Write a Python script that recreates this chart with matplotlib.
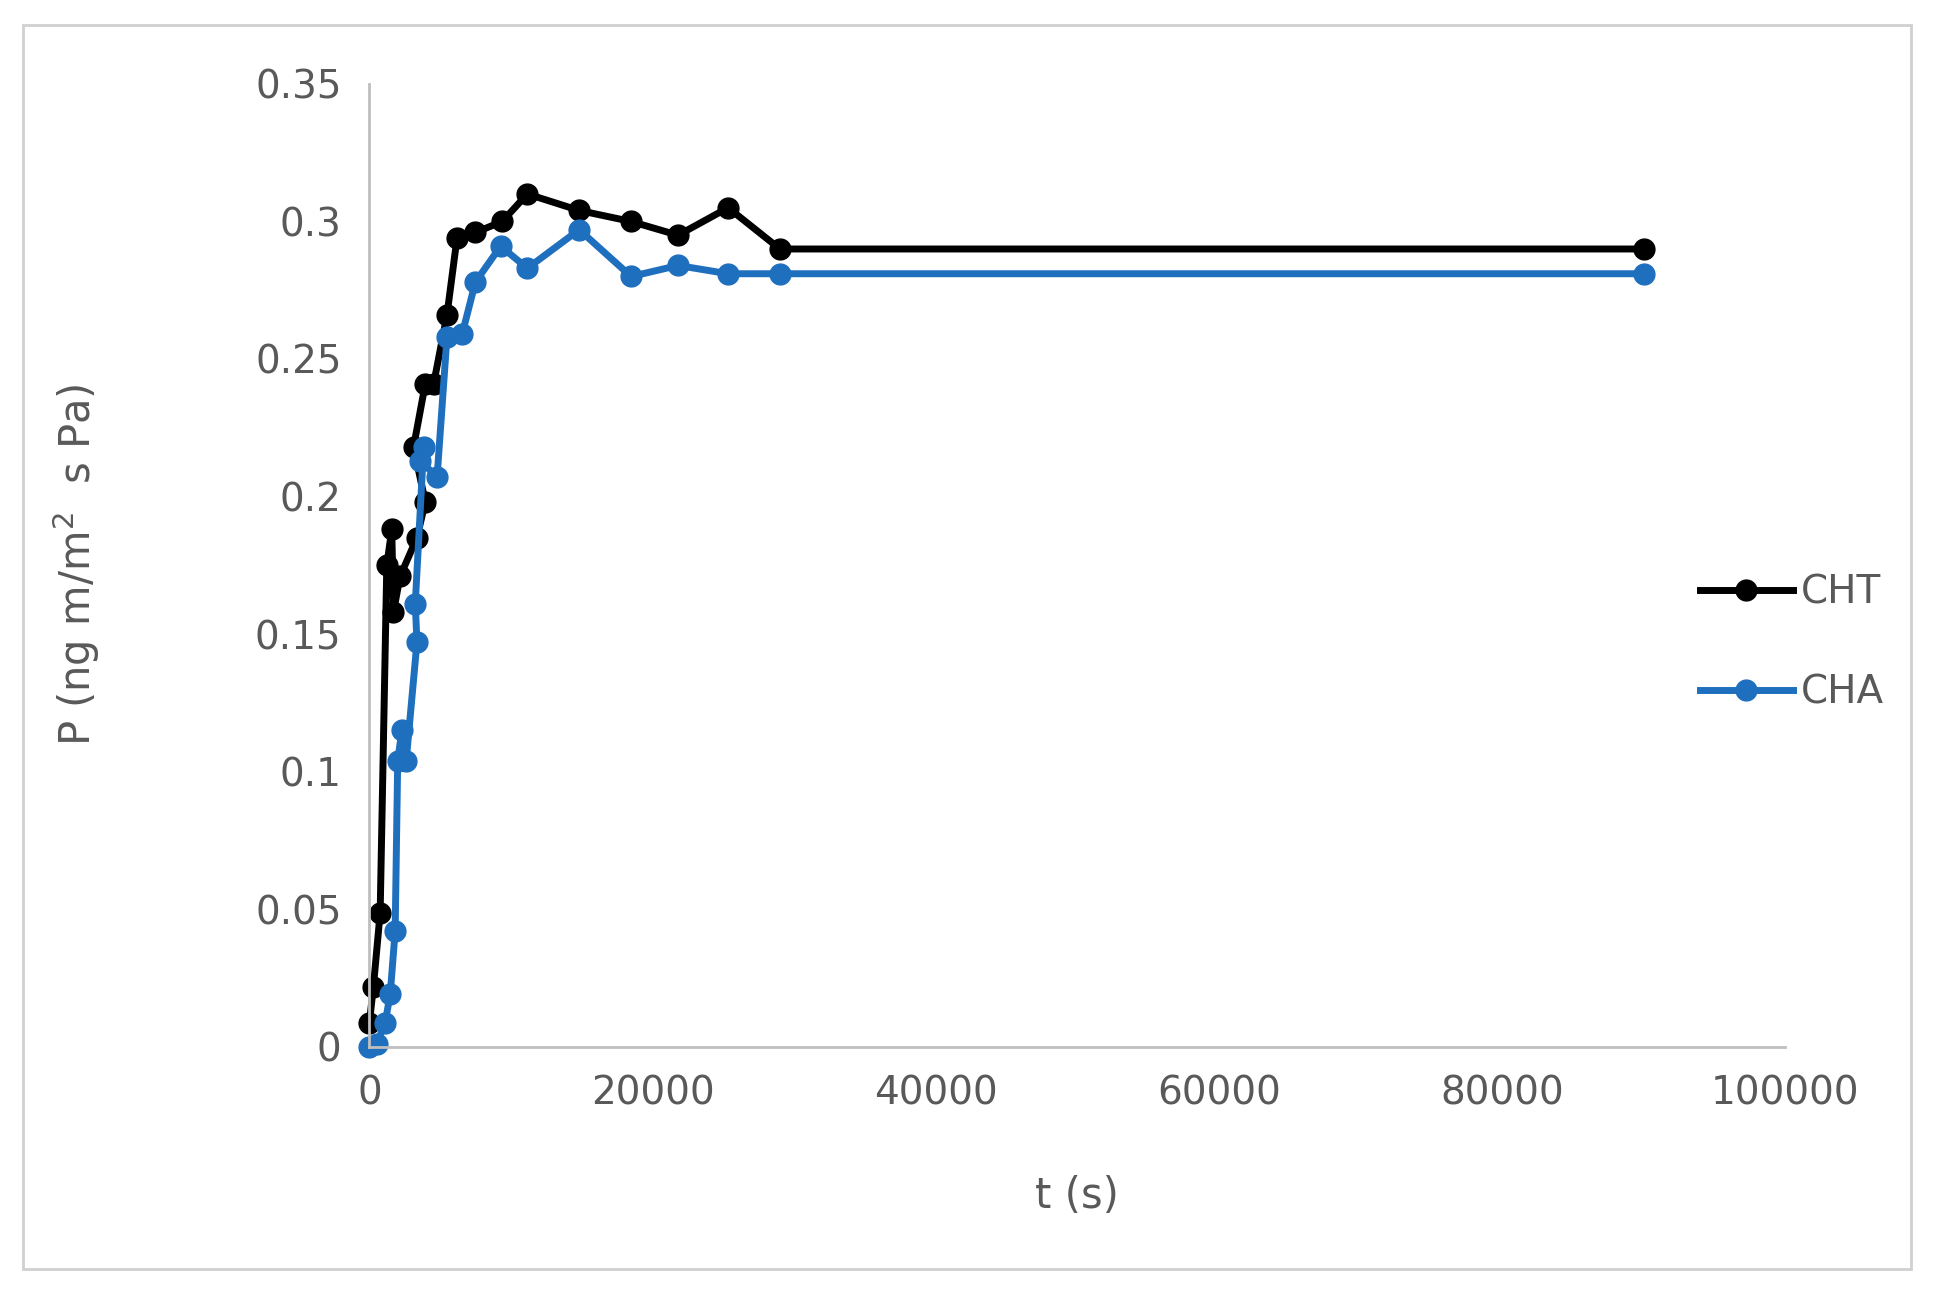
import matplotlib
matplotlib.use("Agg")
import matplotlib.pyplot as plt
from matplotlib.patches import Rectangle

cht_t = [0, 280, 760, 1230, 1580, 1700, 2170, 3360, 3950, 3120, 3950, 4540, 5480, 6190, 7490, 9380, 11160, 14820, 18490, 21800, 25340, 29000, 90000]
cht_p = [0.0086, 0.0216, 0.0486, 0.175, 0.188, 0.158, 0.171, 0.185, 0.198, 0.218, 0.241, 0.241, 0.266, 0.294, 0.296, 0.300, 0.310, 0.304, 0.300, 0.295, 0.305, 0.290, 0.290]
cha_t = [0, 520, 1110, 1470, 1820, 2000, 2300, 2600, 3360, 3240, 3830, 3600, 4780, 5480, 6550, 7490, 9270, 11160, 14820, 18490, 21800, 25340, 29000, 90000]
cha_p = [0.0, 0.001, 0.0086, 0.019, 0.042, 0.104, 0.115, 0.104, 0.147, 0.161, 0.218, 0.213, 0.207, 0.258, 0.259, 0.278, 0.291, 0.283, 0.297, 0.280, 0.284, 0.281, 0.281, 0.281]
xticks = [0, 20000, 40000, 60000, 80000, 100000]
yticks = [0, 0.05, 0.1, 0.15, 0.2, 0.25, 0.3, 0.35]
ylabels = ["0", "0.05", "0.1", "0.15", "0.2", "0.25", "0.3", "0.35"]

fig = plt.figure(figsize=(19.34, 12.92), dpi=100)
fig.patches.append(Rectangle((0.012, 0.018), 0.976, 0.963, transform=fig.transFigure,
                             fill=False, edgecolor="#d0d0d0", linewidth=2))
ax = fig.add_axes([0.191, 0.19, 0.732, 0.745])
gray = "#595959"
ax.plot(cht_t, cht_p, color="black", marker="o", markersize=15, linewidth=5, label="CHT", clip_on=False)
ax.plot(cha_t, cha_p, color="#1f6fbf", marker="o", markersize=15, linewidth=5, label="CHA", clip_on=False)
ax.set_xlim(0, 100000)
ax.set_ylim(0, 0.35)
ax.set_xticks(xticks)
ax.set_xticklabels([str(v) for v in xticks])
ax.set_yticks(yticks)
ax.set_yticklabels(ylabels)
for s in ["top", "right"]:
    ax.spines[s].set_visible(False)
for s in ["left", "bottom"]:
    ax.spines[s].set_color("#bfbfbf")
    ax.spines[s].set_linewidth(2)
ax.tick_params(length=0, labelsize=28, colors=gray, pad=20)
ax.set_xlabel("t (s)", fontsize=30, color=gray, labelpad=45)
ax.set_ylabel("P (ng m/m$^2$  s Pa)", fontsize=30, color=gray, labelpad=110)
leg = ax.legend(loc="center left", bbox_to_anchor=(0.915, 0.42), frameon=False,
                fontsize=28, labelcolor=gray, handlelength=2.4, handletextpad=0.2,
                labelspacing=1.6)
fig.savefig("out.png", dpi=100)
